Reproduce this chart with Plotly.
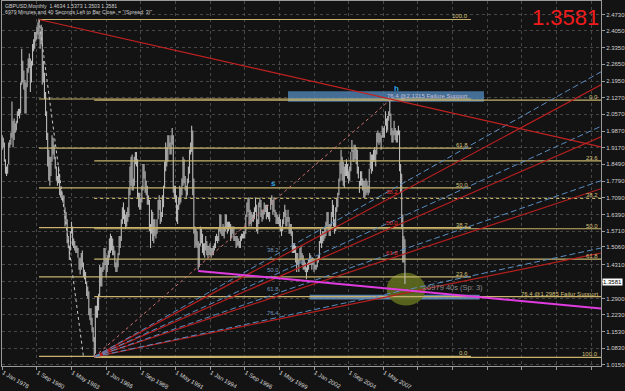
import plotly.graph_objects as go

# ---------------- text ----------------
TITLE_LINE1 = "GBPUSD,Monthly  1.4634 1.5373 1.3503 1.3581"
TITLE_LINE2 = '6979 Minutes and 40 Seconds Left to Bar Close. = "(Spread: 3)"'
BIG_PRICE = "1.3581"
LAST_PRICE = 1.3581
COUNTDOWN = "\u22656979 40s (Sp: 3)"

# ---------------- monthly bars (Jan 1978 .. Jan 2009) ----------------
FIRST_YEAR = 1978
bar_high = [
    1.97, 1.96, 1.94, 1.87, 1.84, 1.85, 1.94, 1.95, 1.98, 2.11, 2.03, 2.04,   # 1978
    2.02, 2.03, 2.07, 2.08, 2.08, 2.19, 2.33, 2.28, 2.24, 2.20, 2.19, 2.25,   # 1979
    2.29, 2.31, 2.29, 2.28, 2.35, 2.37, 2.40, 2.40, 2.42, 2.44, 2.455, 2.40,  # 1980
    2.43, 2.42, 2.28, 2.23, 2.15, 2.07, 1.98, 1.91, 1.88, 1.88, 1.97, 1.96,   # 1981
    1.93, 1.88, 1.84, 1.80, 1.84, 1.81, 1.75, 1.74, 1.72, 1.72, 1.67, 1.65,   # 1982
    1.62, 1.55, 1.51, 1.57, 1.61, 1.59, 1.54, 1.53, 1.51, 1.51, 1.50, 1.46,   # 1983
    1.46, 1.48, 1.49, 1.44, 1.41, 1.40, 1.36, 1.34, 1.32, 1.25, 1.25, 1.21,   # 1984
    1.17, 1.13, 1.26, 1.26, 1.30, 1.31, 1.43, 1.42, 1.42, 1.44, 1.50, 1.50,   # 1985
    1.46, 1.47, 1.49, 1.54, 1.56, 1.55, 1.54, 1.51, 1.49, 1.44, 1.45, 1.48,   # 1986
    1.55, 1.55, 1.62, 1.67, 1.69, 1.66, 1.64, 1.65, 1.67, 1.75, 1.84, 1.88,   # 1987
    1.89, 1.79, 1.88, 1.90, 1.90, 1.87, 1.73, 1.73, 1.71, 1.76, 1.85, 1.85,   # 1988
    1.82, 1.78, 1.76, 1.72, 1.70, 1.60, 1.66, 1.65, 1.62, 1.62, 1.58, 1.62,   # 1989
    1.70, 1.72, 1.70, 1.65, 1.72, 1.76, 1.86, 1.94, 1.92, 1.97, 1.97, 1.94,   # 1990
    1.97, 2.00, 1.97, 1.76, 1.76, 1.72, 1.68, 1.71, 1.76, 1.75, 1.79, 1.88,   # 1991
    1.87, 1.80, 1.76, 1.79, 1.84, 1.91, 1.94, 2.01, 1.99, 1.79, 1.59, 1.58,   # 1992
    1.57, 1.53, 1.52, 1.59, 1.58, 1.56, 1.52, 1.52, 1.55, 1.53, 1.51, 1.51,   # 1993
    1.52, 1.50, 1.50, 1.51, 1.52, 1.55, 1.56, 1.55, 1.58, 1.64, 1.64, 1.58,   # 1994
    1.60, 1.59, 1.64, 1.64, 1.61, 1.61, 1.61, 1.60, 1.59, 1.59, 1.59, 1.55,   # 1995
    1.55, 1.55, 1.54, 1.53, 1.55, 1.56, 1.56, 1.57, 1.57, 1.64, 1.69, 1.71,   # 1996
    1.71, 1.66, 1.65, 1.64, 1.65, 1.67, 1.71, 1.68, 1.62, 1.69, 1.71, 1.70,   # 1997
    1.66, 1.66, 1.69, 1.68, 1.68, 1.68, 1.65, 1.65, 1.71, 1.72, 1.70, 1.71,   # 1998
    1.66, 1.65, 1.64, 1.63, 1.64, 1.62, 1.59, 1.62, 1.65, 1.68, 1.66, 1.63,   # 1999
    1.66, 1.63, 1.60, 1.60, 1.57, 1.52, 1.52, 1.51, 1.48, 1.48, 1.45, 1.50,   # 2000
    1.51, 1.48, 1.47, 1.45, 1.44, 1.42, 1.44, 1.45, 1.48, 1.47, 1.46, 1.46,   # 2001
    1.45, 1.43, 1.43, 1.46, 1.47, 1.53, 1.58, 1.56, 1.57, 1.57, 1.59, 1.61,   # 2002
    1.65, 1.65, 1.60, 1.60, 1.65, 1.70, 1.68, 1.62, 1.67, 1.71, 1.73, 1.79,   # 2003
    1.86, 1.91, 1.88, 1.86, 1.84, 1.85, 1.87, 1.85, 1.82, 1.84, 1.90, 1.95,   # 2004
    1.91, 1.93, 1.93, 1.92, 1.91, 1.84, 1.78, 1.82, 1.82, 1.79, 1.78, 1.78,   # 2005
    1.79, 1.78, 1.76, 1.83, 1.90, 1.89, 1.89, 1.91, 1.92, 1.91, 1.98, 1.99,   # 2006
    1.98, 1.98, 1.97, 2.01, 2.00, 2.01, 2.07, 2.04, 2.05, 2.07, 2.116, 2.06,  # 2007
    2.00, 1.99, 2.03, 2.00, 1.99, 1.99, 2.01, 1.99, 1.85, 1.81, 1.64, 1.55,   # 2008
    1.5373,                                                                    # 2009
]
bar_low = [
    1.91, 1.92, 1.86, 1.81, 1.80, 1.81, 1.85, 1.92, 1.93, 1.96, 1.92, 1.95,   # 1978
    1.98, 1.99, 2.02, 2.05, 2.04, 2.06, 2.18, 2.19, 2.16, 2.06, 2.06, 2.17,   # 1979
    2.23, 2.25, 2.15, 2.19, 2.26, 2.32, 2.33, 2.36, 2.37, 2.39, 2.37, 2.33,   # 1980
    2.35, 2.18, 2.19, 2.12, 2.05, 1.95, 1.84, 1.78, 1.76, 1.80, 1.86, 1.89,   # 1981
    1.87, 1.83, 1.78, 1.76, 1.77, 1.72, 1.71, 1.70, 1.69, 1.67, 1.59, 1.60,   # 1982
    1.52, 1.50, 1.45, 1.49, 1.56, 1.51, 1.50, 1.49, 1.48, 1.48, 1.46, 1.41,   # 1983
    1.39, 1.41, 1.42, 1.38, 1.37, 1.35, 1.30, 1.29, 1.22, 1.20, 1.18, 1.15,   # 1984
    1.11, 1.052, 1.06, 1.21, 1.21, 1.24, 1.30, 1.34, 1.34, 1.40, 1.41, 1.43,  # 1985
    1.38, 1.40, 1.43, 1.46, 1.48, 1.49, 1.47, 1.47, 1.42, 1.40, 1.40, 1.42,   # 1986
    1.47, 1.50, 1.53, 1.60, 1.62, 1.60, 1.58, 1.59, 1.61, 1.63, 1.72, 1.76,   # 1987
    1.74, 1.74, 1.76, 1.85, 1.84, 1.71, 1.67, 1.66, 1.66, 1.69, 1.74, 1.79,   # 1988
    1.73, 1.72, 1.68, 1.68, 1.57, 1.50, 1.56, 1.53, 1.52, 1.55, 1.54, 1.56,   # 1989
    1.62, 1.66, 1.60, 1.61, 1.63, 1.67, 1.75, 1.82, 1.84, 1.86, 1.92, 1.89,   # 1990
    1.89, 1.93, 1.73, 1.71, 1.69, 1.61, 1.60, 1.66, 1.68, 1.69, 1.72, 1.76,   # 1991
    1.77, 1.74, 1.71, 1.72, 1.77, 1.81, 1.89, 1.90, 1.72, 1.56, 1.50, 1.51,   # 1992
    1.50, 1.41, 1.42, 1.51, 1.52, 1.48, 1.47, 1.46, 1.49, 1.47, 1.46, 1.47,   # 1993
    1.47, 1.46, 1.47, 1.47, 1.49, 1.50, 1.53, 1.52, 1.53, 1.57, 1.56, 1.55,   # 1994
    1.55, 1.54, 1.57, 1.58, 1.56, 1.57, 1.58, 1.53, 1.54, 1.56, 1.53, 1.53,   # 1995
    1.50, 1.51, 1.51, 1.50, 1.50, 1.53, 1.54, 1.54, 1.54, 1.56, 1.63, 1.65,   # 1996
    1.59, 1.60, 1.59, 1.61, 1.61, 1.62, 1.65, 1.57, 1.56, 1.60, 1.67, 1.63,   # 1997
    1.61, 1.62, 1.64, 1.65, 1.62, 1.63, 1.62, 1.61, 1.66, 1.68, 1.64, 1.65,   # 1998
    1.63, 1.60, 1.60, 1.60, 1.59, 1.57, 1.55, 1.57, 1.60, 1.63, 1.59, 1.59,   # 1999
    1.61, 1.56, 1.56, 1.55, 1.48, 1.48, 1.48, 1.44, 1.40, 1.43, 1.40, 1.44,   # 2000
    1.45, 1.43, 1.41, 1.41, 1.40, 1.37, 1.40, 1.41, 1.43, 1.43, 1.41, 1.43,   # 2001
    1.40, 1.41, 1.41, 1.42, 1.44, 1.45, 1.52, 1.50, 1.52, 1.53, 1.54, 1.55,   # 2002
    1.59, 1.57, 1.55, 1.55, 1.59, 1.63, 1.59, 1.56, 1.57, 1.65, 1.67, 1.72,   # 2003
    1.78, 1.81, 1.78, 1.76, 1.75, 1.80, 1.80, 1.79, 1.77, 1.78, 1.82, 1.90,   # 2004
    1.86, 1.86, 1.87, 1.85, 1.81, 1.79, 1.73, 1.76, 1.76, 1.74, 1.71, 1.71,   # 2005
    1.72, 1.73, 1.72, 1.73, 1.83, 1.81, 1.82, 1.86, 1.86, 1.84, 1.89, 1.94,   # 2006
    1.93, 1.94, 1.91, 1.96, 1.96, 1.96, 2.01, 1.98, 1.99, 2.03, 2.05, 1.97,   # 2007
    1.94, 1.94, 1.97, 1.95, 1.94, 1.94, 1.97, 1.82, 1.73, 1.58, 1.44, 1.44,   # 2008
    1.3503,                                                                    # 2009
]

# ---------------- axes ----------------
x_tick_text = ["1 Jan 1978", "1 Sep 1980", "1 May 1983", "1 Jan 1986", "1 Sep 1988",
               "1 May 1991", "1 Jan 1994", "1 Sep 1996", "1 May 1999", "1 Jan 2002",
               "1 Sep 2004", "1 May 2007"]
x_grid_future = ["2010-01", "2012-09", "2015-05", "2018-01", "2020-09", "2023-05"]
y_tick_vals = [2.4730, 2.4050, 2.3350, 2.2650, 2.1950, 2.1270, 2.0570, 1.9870, 1.9170,
               1.8490, 1.7790, 1.7090, 1.6390, 1.5710, 1.5060, 1.4310, 1.3600, 1.2900,
               1.2230, 1.1530, 1.0830, 1.0150]

# ---------------- drawing objects (date, price) ----------------
fib1_high = ("1980-11", 2.452)
fib1_low = ("1984-04", 1.049)
fib1_end = "2014-02"
fib1_levels = [0.0, 23.6, 38.2, 50.0, 61.8, 76.4, 100.0]
fib1_texts = ["0.0", "23.6", "38.2", "50.0", "61.8", "76.4 @2.1315 Failure Support", "100.0"]

fib2_high = ("2007-11", 2.1161)
fib2_low = ("1985-02", 1.0452)
fib2_levels = [0.0, 23.6, 38.2, 50.0, 61.8, 76.4, 100.0]
fib2_texts = ["0.0", "23.6", "38.2", "50.0", "61.8", "76.4 @1.2985 Failur Support", "100.0"]

fan_origin = ("1985-02", 1.047)
red_fan_anchor = ("2007-11", 2.1161)
blue_fan_anchor = ("1998-11", 1.724)
fan_levels = [38.2, 50.0, 61.8, 76.4]
red_fan_texts = ["38.2", "50.0", "61.8"]
blue_fan_texts = ["38.2", "50.0", "61.8", "76.4"]

trend_points = [("1980-11", 2.452), ("2007-11", 2.121)]
magenta_points = [("1993-02", 1.405), ("2001-06", 1.363)]
rect_top = ("2000-01", "2015-02", 2.109, 2.153)
rect_bottom = ("2001-09", "2014-10", 1.286, 1.306)
ellipse = ("2007-08", "2010-08", 1.261, 1.397)
label_h = ("2008-05", 2.165, "h")
label_s = ("1998-12", 1.769, "s")
countdown_pos = ("2010-04", 1.337)

# ---------------- layout constants ----------------
X_MIN, X_MAX = -0.2, 553.1
Y_MIN, Y_MAX = 1.009, 2.529
BG = "#131313"
GOLD = "#c9b36c"
RED = "#b51f1f"
BLUE = "#5a8cc0"
SMALL = "Liberation Sans, Arial, sans-serif"


def midx(s):
    y, m = s.split("-")
    return (int(y) - FIRST_YEAR) * 12 + int(m) - 1


MONTHS = {"Jan": 1, "Feb": 2, "Mar": 3, "Apr": 4, "May": 5, "Jun": 6, "Jul": 7,
          "Aug": 8, "Sep": 9, "Oct": 10, "Nov": 11, "Dec": 12}


def tick_idx(t):
    _, mon, yr = t.split()
    return (int(yr) - FIRST_YEAR) * 12 + MONTHS[mon] - 1


fig = go.Figure()

# price bars (high-low)
xs, ys = [], []
for i, (h, l) in enumerate(zip(bar_high, bar_low)):
    xs += [i, i, None]
    ys += [l, h, None]
fig.add_trace(go.Scatter(x=xs, y=ys, mode="lines", line=dict(color="#bababa", width=1.1),
                         hoverinfo="skip", showlegend=False))

shapes = []
annotations = []


def seg(x0, y0, x1, y1, color, width=1, dash="solid", layer="above"):
    shapes.append(dict(type="line", xref="x", yref="y", x0=x0, y0=y0, x1=x1, y1=y1,
                       line=dict(color=color, width=width, dash=dash), layer=layer))


def label(x, y, text, color, size=6, xanchor="center", xref="x", yanchor="bottom",
          yshift=-2, xshift=0, family=SMALL):
    annotations.append(dict(x=x, y=y, xref=xref, yref="y", text=text, showarrow=False,
                            xanchor=xanchor, yanchor=yanchor, yshift=yshift, xshift=xshift,
                            font=dict(color=color, size=size, family=family)))


# background objects
for (a, b, p0, p1), col, op in [(rect_top, "#4d7fae", 0.85), (rect_bottom, "#6794c2", 0.85)]:
    shapes.append(dict(type="rect", xref="x", yref="y", x0=midx(a), x1=midx(b), y0=p0, y1=p1,
                       fillcolor=col, opacity=op, line=dict(width=0), layer="between"))
shapes.append(dict(type="circle", xref="x", yref="y", x0=midx(ellipse[0]), x1=midx(ellipse[1]),
                   y0=ellipse[2], y1=ellipse[3], fillcolor="#5f6c1e", opacity=0.9,
                   line=dict(width=0), layer="between"))

# fib 1
h1, l1 = fib1_high[1], fib1_low[1]
for lev, txt in zip(fib1_levels, fib1_texts):
    p = l1 + lev / 100 * (h1 - l1)
    seg(midx(fib1_high[0]), p, midx(fib1_end), p, GOLD, 1.2)
    label(midx(fib1_end), p, txt, "#d4c07a" if "@" not in txt else "#c8bfd8", xanchor="right", xshift=-1)
seg(midx(fib1_high[0]), h1, midx(fib1_low[0]), l1, "#c8c8c8", 1, "dot")

# fib 2
h2, l2 = fib2_high[1], fib2_low[1]
for lev, txt in zip(fib2_levels, fib2_texts):
    p = h2 - lev / 100 * (h2 - l2)
    seg(midx(fib2_low[0]), p, X_MAX, p, GOLD, 1.2, "dot" if lev == 38.2 else "solid")
    label(1, p, txt, "#d4c07a", xanchor="right", xref="paper", xshift=-1)

# fans
om, op_ = midx(fan_origin[0]), fan_origin[1]
for anchor, col, dash, texts, lw in [(red_fan_anchor, RED, "solid", red_fan_texts, 1.2),
                                     (blue_fan_anchor, BLUE, "6px,3px", blue_fan_texts, 1)]:
    am, ap = midx(anchor[0]), anchor[1]
    for k, lev in enumerate(fan_levels):
        pl = ap - lev / 100 * (ap - op_)
        pr = op_ + (pl - op_) * (X_MAX - om) / (am - om)
        seg(om, op_, X_MAX, pr, col, lw, dash)
        if k < len(texts):
            tm = am + (2 if col == RED else 0)
            label(tm, pl, texts[k], "#e03030" if col == RED else "#6f90b8", yshift=1)
seg(om, op_, midx(red_fan_anchor[0]), red_fan_anchor[1], "#d27474", 1, "dot")

# trend line from 1980 top
(t0, tp0), (t1, tp1) = trend_points
tm0, tm1 = midx(t0), midx(t1)
seg(tm0, tp0, X_MAX, tp0 + (tp1 - tp0) * (X_MAX - tm0) / (tm1 - tm0), "#c42222", 1.2)

# magenta support line
(g0, gp0), (g1, gp1) = magenta_points
gm0, gm1 = midx(g0), midx(g1)
seg(gm0, gp0, X_MAX, gp0 + (gp1 - gp0) * (X_MAX - gm0) / (gm1 - gm0), "#e03ce0", 2)

# h / s markers
for d, p, t in (label_h, label_s):
    annotations.append(dict(x=midx(d), y=p, xref="x", yref="y", text="<b>%s</b>" % t,
                            showarrow=False, font=dict(color="#2fa4e7", size=8,
                                                       family="Liberation Sans, Arial, sans-serif")))

# countdown text
annotations.append(dict(x=midx(countdown_pos[0]), y=countdown_pos[1], xref="x", yref="y",
                        text=COUNTDOWN, showarrow=False, xanchor="left",
                        font=dict(color="#8c8c8c", size=7.5, family="Liberation Sans, Arial, sans-serif")))

# header texts
annotations.append(dict(x=0, y=1, xref="paper", yref="paper", text=TITLE_LINE1, showarrow=False,
                        xanchor="left", yanchor="top", xshift=1, yshift=0,
                        font=dict(color="#d0d0d0", size=5.2, family="Liberation Sans, Arial, sans-serif")))
annotations.append(dict(x=0, y=1, xref="paper", yref="paper", text=TITLE_LINE2, showarrow=False,
                        xanchor="left", yanchor="top", xshift=1, yshift=-6,
                        font=dict(color="#d0d0d0", size=5.2, family="Liberation Sans, Arial, sans-serif")))
annotations.append(dict(x=1, y=1, xref="paper", yref="paper", text=BIG_PRICE, showarrow=False,
                        xanchor="right", yanchor="top", xshift=0, yshift=-2,
                        font=dict(color="#ee1c1c", size=22, family="Liberation Sans, Arial, sans-serif")))
# current price box on axis
annotations.append(dict(x=1, y=LAST_PRICE, xref="paper", yref="y", text=BIG_PRICE,
                        showarrow=False, xanchor="left", xshift=1, bgcolor="#ffffff",
                        borderpad=0, font=dict(color="#000000", size=6, family=SMALL)))

tickx = [tick_idx(t) for t in x_tick_text]
gridx = tickx + [midx(d) for d in x_grid_future]
fig.update_layout(
    width=625, height=391,
    margin=dict(l=2, r=23, t=0, b=11),
    paper_bgcolor=BG, plot_bgcolor=BG,
    showlegend=False,
    shapes=shapes, annotations=annotations,
    xaxis=dict(range=[X_MIN, X_MAX], tickmode="array", tickvals=gridx,
               ticktext=x_tick_text + [""] * len(x_grid_future),
               ticklabelposition="outside right", ticks="outside", ticklen=3,
               tickcolor="#9a9a9a", tickfont=dict(color="#d0d0d0", size=6, family=SMALL),
               showgrid=True, gridcolor="#474747", griddash="dot", gridwidth=1,
               showline=True, linecolor="#9a9a9a", linewidth=1, mirror=True, zeroline=False),
    yaxis=dict(range=[Y_MIN, Y_MAX], side="right", tickmode="array", tickvals=y_tick_vals,
               ticktext=["" if abs(v - 1.36) < 1e-9 else "%.4f" % v for v in y_tick_vals],
               ticks="outside", ticklen=3, tickcolor="#9a9a9a",
               tickfont=dict(color="#d0d0d0", size=6, family=SMALL),
               showgrid=True, gridcolor="#474747", griddash="dot", gridwidth=1,
               showline=True, linecolor="#9a9a9a", linewidth=1, mirror=True, zeroline=False),
)

fig.write_html("out.html")
